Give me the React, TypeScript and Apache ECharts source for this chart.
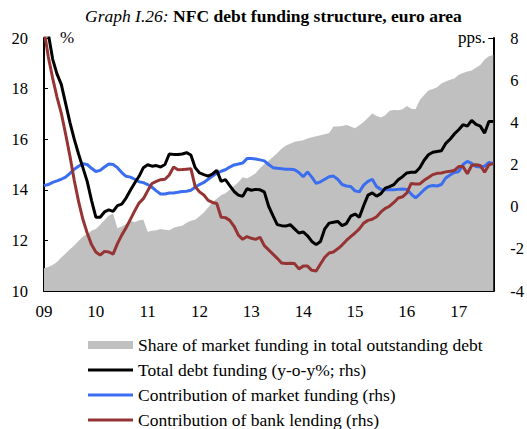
import React, { useEffect, useRef } from "react";
import * as echarts from "echarts";

// Months from Jan 2009 to Sep 2017
const months: string[] = [];
for (let y = 2009; y <= 2017; y++) {
  for (let m = 1; m <= 12; m++) {
    if (y === 2017 && m > 9) break;
    months.push(`${y}-${String(m).padStart(2, "0")}`);
  }
}

const leftTicks = { min: 10, max: 20, interval: 2 };
const rightTicks = { min: -4, max: 8, interval: 2 };

// Share of market funding in total outstanding debt (%, lhs)
const shareMarket = [
  10.9, 10.95, 11.03, 11.15, 11.32, 11.48, 11.65, 11.8, 11.98, 12.15, 12.25, 12.38,
  12.45, 12.62, 12.8, 12.98, 13.05, 12.48, 12.55, 12.65, 12.78, 12.72, 12.8, 12.82,
  12.34, 12.38, 12.4, 12.45, 12.42, 12.4, 12.5, 12.55, 12.58, 12.7, 12.78, 12.82,
  12.95, 13.1, 13.3, 13.52, 13.65, 13.78, 13.86, 14.0, 14.15, 14.3, 14.5, 14.45,
  14.55, 14.65, 14.85, 15.02, 15.15, 15.3, 15.45, 15.62, 15.75, 15.82, 15.9, 15.93,
  15.96, 16.03, 16.08, 16.12, 16.16, 16.2, 16.25, 16.5, 16.5, 16.52, 16.56, 16.5,
  16.43, 16.55, 16.68, 16.85, 17.02, 16.92, 16.86, 16.95, 17.12, 17.15, 17.14, 17.18,
  17.31, 17.2, 17.18, 17.55, 17.75, 17.92, 17.98, 18.05, 18.2, 18.28, 18.35, 18.4,
  18.55, 18.62, 18.68, 18.72, 18.82, 18.93, 19.15, 19.28, 19.33,
];

// Total debt funding (y-o-y %, rhs)
const totalDebt = [
  9.5, 8.2, 7.0, 6.3, 5.8, 4.9, 4.0, 3.2, 2.5, 1.85, 1.2, 0.3,
  -0.5, -0.5, -0.25, -0.15, -0.22, 0.05, 0.12, 0.41, 0.78, 1.12, 1.44, 1.85,
  1.99, 1.92, 1.95, 1.88, 2.0, 2.5, 2.48, 2.47, 2.5, 2.56, 2.45, 1.85,
  1.6, 1.52, 1.45, 1.55, 1.72, 1.2, 1.28, 1.0, 0.72, 0.55, 0.49, 0.85,
  0.78, 0.82, 0.8, 0.7, 0.02, -0.42, -0.85, -0.9, -0.92, -0.85, -1.05, -1.25,
  -1.2, -1.38, -1.65, -1.8, -1.65, -1.05, -0.78, -0.74, -0.7, -0.9, -0.8, -0.45,
  -0.35, -0.5, 0.05, 0.55, 0.65, 0.5, 0.62, 0.88, 0.95, 1.05, 1.28, 1.42,
  1.6, 1.63, 1.63, 1.85, 2.2, 2.46, 2.58, 2.62, 2.65, 3.0, 3.2, 3.45,
  3.65, 3.89, 3.82, 4.09, 3.9, 3.82, 3.49, 4.04, 4.04,
];

// Contribution of market funding (rhs)
const marketContrib = [
  1.0, 1.05, 1.15, 1.22, 1.3, 1.4, 1.58, 1.78, 1.92, 2.04, 2.0, 1.82,
  1.67, 1.72, 1.88, 2.02, 2.0, 1.85, 1.62, 1.44, 1.4, 1.3, 1.18, 1.14,
  1.05, 0.92, 0.75, 0.6, 0.6, 0.65, 0.65, 0.68, 0.72, 0.73, 0.78, 0.92,
  1.05, 1.15, 1.3, 1.45, 1.58, 1.68, 1.75, 1.88, 1.98, 2.02, 2.07, 2.28,
  2.28, 2.26, 2.22, 2.17, 2.0, 1.85, 1.82, 1.8, 1.78, 1.77, 1.75, 1.62,
  1.42, 1.65, 1.4, 1.1, 1.18, 1.3, 1.42, 1.45, 1.3, 1.05, 0.98, 0.96,
  0.75, 0.7, 1.02, 1.2, 1.3, 0.95, 0.82, 0.8, 0.8, 0.8, 0.82, 0.84,
  0.82, 0.6, 0.42, 0.6, 0.8, 0.96, 1.0, 0.98, 1.05, 1.36, 1.5, 1.62,
  1.67, 2.0, 2.15, 2.05, 1.91, 1.88, 1.92, 2.1, 2.04,
];

// Contribution of bank lending (rhs)
const bankContrib = [
  8.4, 7.1, 6.1, 5.2, 4.44, 3.45, 2.4, 1.25, 0.25, -0.6, -1.25, -1.8,
  -2.15, -2.3, -2.12, -2.15, -2.25, -1.75, -1.35, -1.0, -0.6, -0.2, 0.17, 0.38,
  0.75, 1.1, 1.2, 1.28, 1.3, 1.5, 1.88, 1.75, 1.76, 1.78, 1.8, 0.95,
  0.7, 0.55, 0.3, 0.2, 0.15, -0.5, -0.52, -0.65, -0.93, -1.35, -1.55, -1.42,
  -1.5, -1.55, -1.45, -1.85, -2.05, -2.25, -2.45, -2.67, -2.7, -2.68, -2.7, -2.95,
  -2.82, -2.82, -3.02, -3.05, -2.72, -2.4, -2.2, -2.15, -2.0, -1.82, -1.6, -1.42,
  -1.25, -1.05, -0.78, -0.65, -0.6, -0.48, -0.25, -0.08, 0.02, 0.2, 0.41, 0.47,
  0.65, 1.1, 1.08, 1.08, 1.25, 1.38, 1.52, 1.58, 1.6, 1.65, 1.68, 1.72,
  1.9, 1.9, 1.56, 1.95, 1.99, 1.95, 1.63, 1.99, 2.04,
];

const seriesNames = [
  "Share of market funding in total outstanding debt",
  "Total debt funding (y-o-y%; rhs)",
  "Contribution of market funding (rhs)",
  "Contribution of bank lending (rhs)",
];

const FONT = "Liberation Serif, Times New Roman, serif";
const LINE_ICON = "path://M0,0H45V3H0Z";

export default function App() {
  const ref = useRef<HTMLDivElement>(null);
  useEffect(() => {
    document.body.style.margin = "0";
    if (!ref.current) return;
    const chart = echarts.init(ref.current, undefined, { renderer: "svg" });
    const isYearStart = (i: number) => i % 12 === 0;
    chart.setOption({
      animation: false,
      textStyle: { fontFamily: FONT, color: "#000" },
      title: {
        text: "{i|Graph I.26:} {b|NFC debt funding structure, euro area}",
        left: 85,
        top: 7,
        padding: 0,
        textStyle: {
          fontWeight: "normal",
          rich: {
            i: { fontFamily: FONT, fontStyle: "italic", fontWeight: "normal", fontSize: 17.5, color: "#000" },
            b: { fontFamily: FONT, fontWeight: "bold", fontSize: 17.5, color: "#000" },
          },
        },
      },
      graphic: [
        { type: "text", left: 60, top: 29, style: { text: "%", font: `17px ${FONT}`, fill: "#000" } },
        { type: "text", left: 458, top: 29, style: { text: "pps.", font: `17px ${FONT}`, fill: "#000" } },
      ],
      grid: { left: 44, right: 32, top: 38, bottom: 138, containLabel: false },
      legend: {
        orient: "vertical",
        left: 88,
        top: 336,
        height: 100,
        padding: 0,
        itemWidth: 45,
        itemHeight: 8,
        itemGap: 7,
        textStyle: { fontFamily: FONT, fontSize: 17.5, color: "#000", lineHeight: 18 },
        data: [
          { name: seriesNames[0], icon: "rect", itemStyle: { color: "#c0c0c0" } },
          { name: seriesNames[1], icon: LINE_ICON, itemStyle: { color: "#000000" } },
          { name: seriesNames[2], icon: LINE_ICON, itemStyle: { color: "#3a6df0" } },
          { name: seriesNames[3], icon: LINE_ICON, itemStyle: { color: "#963434" } },
        ],
      },
      xAxis: {
        type: "category",
        data: months,
        boundaryGap: false,
        axisLine: { onZero: false, lineStyle: { color: "#000", width: 2 } },
        axisTick: { inside: true, length: 5, interval: (i: number) => isYearStart(i), lineStyle: { color: "#000" } },
        axisLabel: {
          interval: (i: number) => isYearStart(i),
          formatter: (v: string) => v.slice(2, 4),
          fontFamily: FONT,
          fontSize: 17,
          color: "#000",
          margin: 12,
        },
        splitLine: { show: false },
      },
      yAxis: [
        {
          type: "value",
          min: leftTicks.min,
          max: leftTicks.max,
          interval: leftTicks.interval,
          position: "left",
          axisLine: { show: true, onZero: false, lineStyle: { color: "#000", width: 2 } },
          axisTick: { show: true, inside: true, length: 4, lineStyle: { color: "#000" } },
          axisLabel: { fontFamily: FONT, fontSize: 16.5, color: "#000", margin: 16 },
          splitLine: { show: false },
        },
        {
          type: "value",
          min: rightTicks.min,
          max: rightTicks.max,
          interval: rightTicks.interval,
          position: "right",
          axisLine: { show: true, onZero: false, lineStyle: { color: "#000", width: 2 } },
          axisTick: { show: true, inside: true, length: 5, lineStyle: { color: "#000" } },
          axisLabel: { fontFamily: FONT, fontSize: 16.5, color: "#000", margin: 17 },
          splitLine: { show: false },
        },
      ],
      series: [
        {
          name: seriesNames[0],
          type: "line",
          yAxisIndex: 0,
          data: shareMarket,
          symbol: "none",
          lineStyle: { width: 0, color: "#c0c0c0" },
          itemStyle: { color: "#c0c0c0" },
          areaStyle: { color: "#c0c0c0", opacity: 1, origin: "start" },
          z: 1,
        },
        {
          name: seriesNames[2],
          type: "line",
          yAxisIndex: 1,
          data: marketContrib,
          symbol: "none",
          lineStyle: { width: 3, color: "#3a6df0" },
          itemStyle: { color: "#3a6df0" },
          z: 3,
        },
        {
          name: seriesNames[3],
          type: "line",
          yAxisIndex: 1,
          data: bankContrib,
          symbol: "none",
          lineStyle: { width: 3, color: "#963434" },
          itemStyle: { color: "#963434" },
          z: 4,
        },
        {
          name: seriesNames[1],
          type: "line",
          yAxisIndex: 1,
          data: totalDebt,
          symbol: "none",
          lineStyle: { width: 3, color: "#000000" },
          itemStyle: { color: "#000000" },
          z: 5,
        },
      ],
    });
    return () => chart.dispose();
  }, []);
  return <div ref={ref} style={{ width: 527, height: 429 }} />;
}
